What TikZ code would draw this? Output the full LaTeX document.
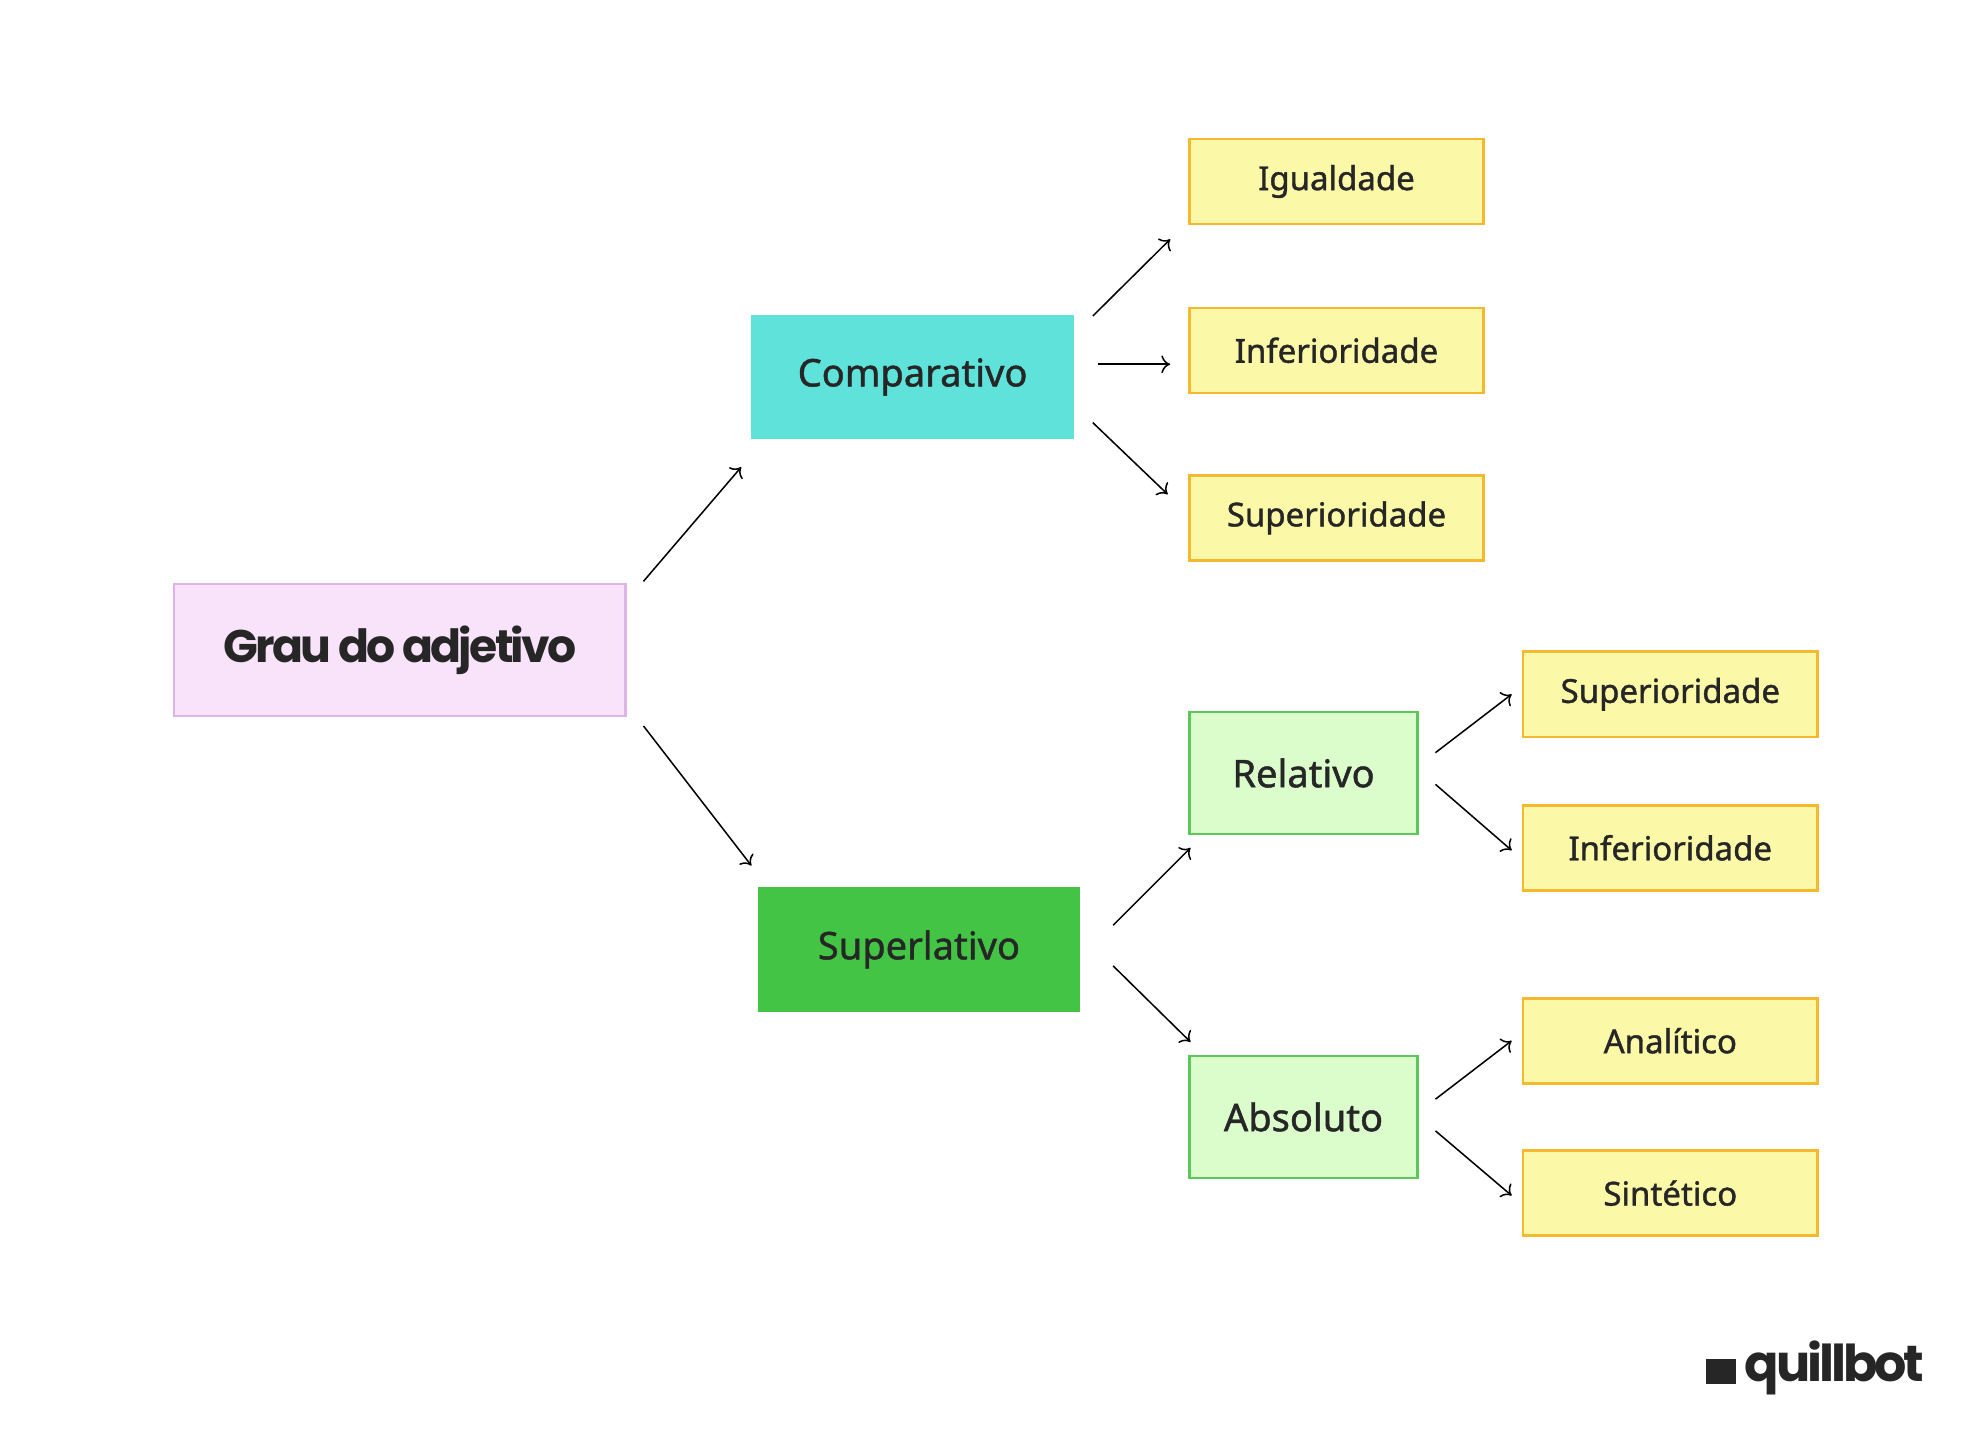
\documentclass[tikz,border=0pt]{standalone}
\usepackage{fontspec}
\setmainfont{Noto Sans}
\newfontfamily\medfont{Noto Sans}[UprightFeatures={FakeBold=1.2}]
\newfontfamily\poppins{Poppins}[LetterSpace=-6]
\usetikzlibrary{positioning, arrows.meta}
\tikzset{
	box/.style={draw, line width=1pt, minimum height=33.5pt, text=black!85},
	root/.style={box, fill=rootfill, draw=rootdraw, minimum width=178pt, minimum height=52pt, font={\poppins\bfseries\fontsize{18}{20}\selectfont}},
	main/.style={box, draw=none, minimum width=127pt, minimum height=49pt, font={\medfont\fontsize{15}{18}\selectfont}},
	sub/.style={box, fill=subfill, draw=subdraw, minimum width=90pt, minimum height=48pt, font={\medfont\fontsize{15}{18}\selectfont}},
	leaf/.style={box, fill=leaffill, draw=leafdraw, minimum width=116pt, font={\medfont\fontsize{13}{16}\selectfont}},
	arr/.style={-{To[length=3.5pt, width=7pt]}, line width=0.6pt},
}
\definecolor{rootfill}{HTML}{F9E3FB}
\definecolor{rootdraw}{HTML}{DDB4E8}
\definecolor{compfill}{HTML}{5EE2D9}
\definecolor{superfill}{HTML}{44C444}
\definecolor{subfill}{HTML}{DAFDCB}
\definecolor{subdraw}{HTML}{5CC85C}
\definecolor{leaffill}{HTML}{FBF8A8}
\definecolor{leafdraw}{HTML}{F5B82E}
\begin{document}
\begin{tikzpicture}[x=0.5pt, y=-0.5pt]
	\useasboundingbox (0,0) rectangle (1560,1127);
	\node(grau)[root] at (315,512) {Grau do adjetivo};
	\node(comp)[main, fill=compfill] at (719,297) {Comparativo};
	\node(super)[main, fill=superfill] at (724,748) {Superlativo};

	\node(igual)[leaf] at (1053,143) {Igualdade};
	\node(infer)[leaf] at (1053,276) {Inferioridade};
	\node(superi)[leaf] at (1053,408) {Superioridade};

	\node(rel)[sub] at (1027,609) {Relativo};
	\node(abs)[sub] at (1027,880) {Absoluto};

	\node(relsup)[leaf] at (1316,547) {Superioridade};
	\node(relinf)[leaf] at (1316,668) {Inferioridade};
	\node(anal)[leaf] at (1316,820) {Analítico};
	\node(sint)[leaf] at (1316,940) {Sintético};

	\node(logo)[font={\poppins\bfseries\fontsize{20}{22}\selectfont}, text=black!85] at (1430,1078) {\raisebox{-1pt}{\rule{12pt}{10pt}}\,quillbot};

	\draw[arr] ([shift={(13,-1)}]grau.north east) -- ([shift={(-7,21)}]comp.south west);
	\draw[arr] ([shift={(13,7)}]grau.south east) -- ([shift={(-4,-16)}]super.north west);
	\draw[arr] ([shift={(14,2)}]comp.north east) -- ([shift={(-14,11)}]igual.south west);
	\draw[arr] ([shift={(18,-10)}]comp.east) -- ([shift={(-14,11)}]infer.west);
	\draw[arr] ([shift={(14,-14)}]comp.south east) -- ([shift={(-16,16)}]superi.north west);
	\draw[arr] ([shift={(25,31)}]super.north east) -- ([shift={(2,10)}]rel.south west);
	\draw[arr] ([shift={(25,-37)}]super.south east) -- ([shift={(2,-10)}]abs.north west);
	\draw[arr] ([shift={(13,-16)}]rel.east) -- ([shift={(-8,0)}]relsup.west);
	\draw[arr] ([shift={(13,9)}]rel.east) -- ([shift={(-8,2)}]relinf.west);
	\draw[arr] ([shift={(13,-14)}]abs.east) -- ([shift={(-8,0)}]anal.west);
	\draw[arr] ([shift={(13,11)}]abs.east) -- ([shift={(-8,2)}]sint.west);
\end{tikzpicture}
\end{document}
